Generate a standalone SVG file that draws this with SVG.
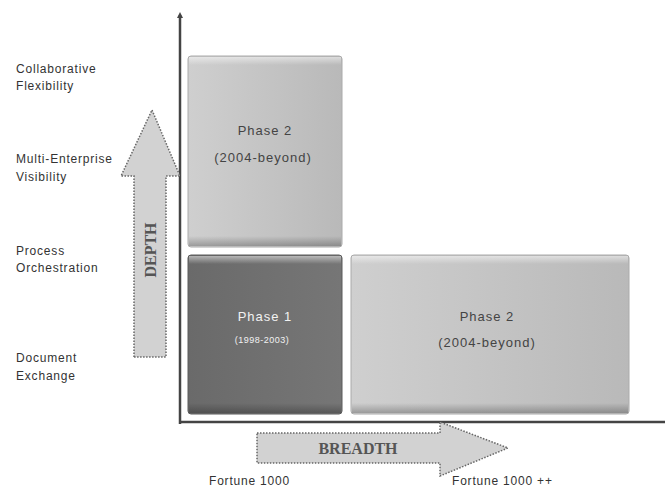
<svg xmlns="http://www.w3.org/2000/svg" width="665" height="489" viewBox="0 0 665 489">
<style>
.lbl{font-family:"Liberation Sans",Arial,sans-serif;font-size:12px;fill:#333;letter-spacing:0.8px}
.ph{font-family:"Liberation Sans",Arial,sans-serif;font-size:13px;fill:#444;text-anchor:middle;letter-spacing:1px}
.phw{font-family:"Liberation Sans",Arial,sans-serif;font-size:13px;fill:#f2f2f2;text-anchor:middle;letter-spacing:1px}
.big{font-family:"Liberation Serif","Times New Roman",serif;font-weight:bold;font-size:16px;fill:#555;text-anchor:middle}
.axis{stroke:#444;stroke-width:2.5;fill:none}
.arrow{fill:#d2d2d2;stroke:#666;stroke-width:1.5;stroke-dasharray:1.5 1.5}
</style>
<defs>
<linearGradient id="gl" x1="0" y1="0" x2="1" y2="0">
<stop offset="0" stop-color="#cfcfcf"/><stop offset="1" stop-color="#b9b9b9"/>
</linearGradient>
<linearGradient id="gd" x1="0" y1="0" x2="1" y2="0">
<stop offset="0" stop-color="#6a6a6a"/><stop offset="1" stop-color="#767676"/>
</linearGradient>
<linearGradient id="top" x1="0" y1="0" x2="0" y2="1">
<stop offset="0" stop-color="#ffffff" stop-opacity="0.5"/><stop offset="1" stop-color="#ffffff" stop-opacity="0"/>
</linearGradient>
<linearGradient id="bot" x1="0" y1="0" x2="0" y2="1">
<stop offset="0" stop-color="#000" stop-opacity="0"/><stop offset="1" stop-color="#000" stop-opacity="0.25"/>
</linearGradient>
<marker id="ah" markerWidth="6" markerHeight="6" refX="3" refY="3" orient="auto" markerUnits="userSpaceOnUse">
<path d="M0,0 L6,3 L0,6 z" fill="#444"/>
</marker>
</defs>

<g id="labels">
<text class="lbl" x="16" y="73">Collaborative</text>
<text class="lbl" x="16" y="90">Flexibility</text>
<text class="lbl" x="16" y="163">Multi-Enterprise</text>
<text class="lbl" x="16" y="181">Visibility</text>
<text class="lbl" x="16" y="255">Process</text>
<text class="lbl" x="16" y="272">Orchestration</text>
<text class="lbl" x="16" y="362">Document</text>
<text class="lbl" x="16" y="380">Exchange</text>
<text class="lbl" x="209" y="485">Fortune 1000</text>
<text class="lbl" x="452" y="485">Fortune 1000 ++</text>
</g>

<g id="connectors">
<path class="axis" d="M180,424 L180,15" marker-end="url(#ah)"/>
<path class="axis" d="M179,422 L665,422"/>
</g>

<g id="depth">
<path class="arrow" d="M134,357 L134,176 L121,176 L152,110 L180,176 L166,176 L166,357 Z"/>
<text class="big" transform="translate(156,250) rotate(-90)">DEPTH</text>
</g>

<g id="breadth">
<path class="arrow" d="M257,433 L440,433 L440,422 L508,448 L440,476 L440,463 L257,463 Z"/>
<text class="big" x="358" y="454">BREADTH</text>
</g>

<g id="phase2-top">
<rect x="188" y="56" width="154" height="191" rx="3" fill="url(#gl)" stroke="#aaa" stroke-width="1"/>
<rect x="189" y="57" width="152" height="8" fill="url(#top)"/>
<rect x="189" y="236" width="152" height="10" fill="url(#bot)"/>
<text class="ph" x="265" y="135">Phase 2</text>
<text class="ph" x="263" y="162">(2004-beyond)</text>
</g>

<g id="phase1">
<rect x="188" y="255" width="154" height="159" rx="3" fill="url(#gd)" stroke="#5a5a5a" stroke-width="1"/>
<rect x="189" y="256" width="152" height="8" fill="url(#top)"/>
<rect x="189" y="403" width="152" height="10" fill="url(#bot)"/>
<text class="phw" x="265" y="321">Phase 1</text>
<text class="phw" x="262" y="343" style="font-size:9px;letter-spacing:0.5px">(1998-2003)</text>
</g>

<g id="phase2-right">
<rect x="351" y="255" width="278" height="159" rx="3" fill="url(#gl)" stroke="#aaa" stroke-width="1"/>
<rect x="352" y="256" width="276" height="8" fill="url(#top)"/>
<rect x="352" y="403" width="276" height="10" fill="url(#bot)"/>
<text class="ph" x="487" y="321">Phase 2</text>
<text class="ph" x="487" y="347">(2004-beyond)</text>
</g>
</svg>
